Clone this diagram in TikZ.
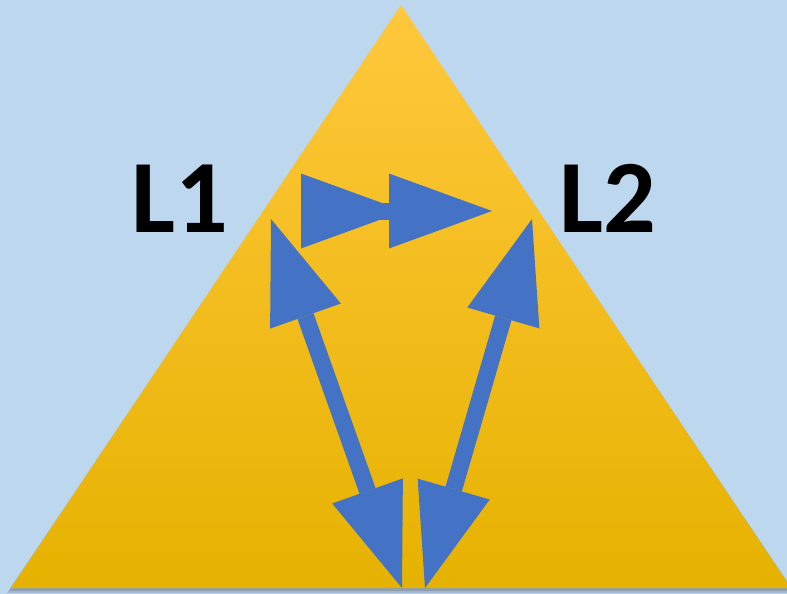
\documentclass[tikz,border=0pt]{standalone}
\usepackage{fontspec}
\setmainfont{Carlito}
\usetikzlibrary{arrows.meta}
\definecolor{bg}{HTML}{BDD7EE}
\definecolor{triTop}{HTML}{FFC83D}
\definecolor{triMid}{HTML}{FFC000}
\definecolor{triBot}{HTML}{E6B200}
\definecolor{arr}{HTML}{4472C4}
\tikzset{
  tipT/.tip={Triangle[length=103pt,width=75pt,line width=0pt]},
  bigarrow/.style={draw=arr, fill=arr, line width=17pt, {tipT}-{tipT}},
  lbl/.style={font=\bfseries\fontsize{104}{104}\selectfont, text=black, inner sep=0pt, anchor=base}
}
\begin{document}
\begin{tikzpicture}[x=1pt,y=-1pt]
\useasboundingbox (0,0) rectangle (787,594);
\clip (0,0) rectangle (787,594);
\fill[bg] (0,0) rectangle (787,594);
% shadow
\fill[black, opacity=0.12] (401,8) -- (795,593) -- (7,593) -- cycle;
\fill[black, opacity=0.15] (401,6) -- (793,591) -- (9,591) -- cycle;
% triangle
\shade[top color=triTop, middle color=triMid, bottom color=triBot] (401,5) -- (791,588) -- (11,588) -- cycle;
% coordinates
\coordinate (hA) at (301,211);
\coordinate (hB) at (492,211);
\coordinate (lA) at (271,219);
\coordinate (lB) at (402,588);
\coordinate (rA) at (532,219);
\coordinate (rB) at (425,588);
% arrows
\draw[arr, line width=17pt] (378,211) -- (400,211);
\draw[draw=arr, fill=arr, line width=17pt, -{tipT[sep=-15pt] tipT}] (hA) -- (hB);
\draw[bigarrow] (lA) -- (lB);
\draw[bigarrow] (rA) -- (rB);
% labels
\node[lbl] (L1) at (179.5,232) {L1};
\node[lbl] (L2) at (608,232) {L2};
\end{tikzpicture}
\end{document}
